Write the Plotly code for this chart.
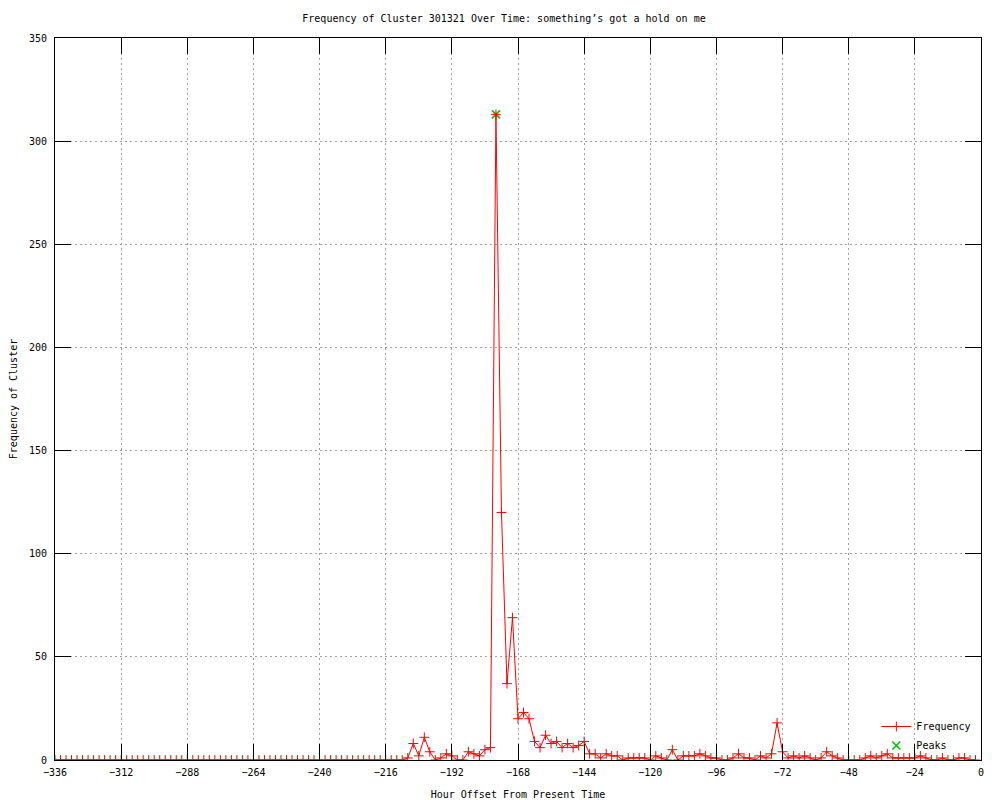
"""Cluster frequency over time (gnuplot-style line chart)."""

import plotly.graph_objects as go

# hour offsets from -336 to -2, one sample every 2 hours
hours = list(range(-336, 0, 2))

# frequency per 2-hour slot
frequency = (
    [0] * 64
    + [1, 8, 2, 11, 4, 0, 1, 3, 2, 0, 0, 4, 3, 2, 5, 6]          # -208 .. -178
    + [313, 120, 37, 69, 20, 23, 20, 9, 6, 12, 8, 9, 6, 8, 6, 7]  # -176 .. -146
    + [9, 3, 3, 1, 3, 2, 2, 0, 1, 1, 1, 1, 0, 2, 1, 0]            # -144 .. -114
    + [5, 0, 2, 2, 2, 3, 2, 1, 1, 0, 0, 1, 3, 1, 1, 0]            # -112 .. -82
    + [2, 1, 3, 18, 4, 1, 2, 1, 2, 1, 0, 1, 4, 2, 1, 0]           # -80 .. -50
    + [0, 0, 0, 1, 2, 1, 2, 3, 1, 1, 1, 1, 1, 2, 1, 0]            # -48 .. -18
    + [0, 1, 0, 0, 1, 1, 0, 0]                                    # -16 .. -2
)

peak_hours = [-176]
peak_values = [313]

x_ticks = list(range(-336, 1, 24))
y_ticks = list(range(0, 351, 50))

MONO = "DejaVu Sans Mono"
PEAK_GREEN = "#00c000"

fig = go.Figure()
fig.add_trace(
    go.Scatter(
        x=peak_hours,
        y=peak_values,
        name="Peaks",
        mode="markers",
        marker=dict(symbol="x-thin", size=8, color=PEAK_GREEN, line=dict(color=PEAK_GREEN, width=1.6)),
        legendrank=2,
    )
)
fig.add_trace(
    go.Scatter(
        x=hours,
        y=frequency,
        name="Frequency",
        mode="lines+markers",
        line=dict(color="#ff0000", width=1),
        marker=dict(symbol="cross-thin", size=7, color="#ff0000", line=dict(color="#ff0000", width=1)),
        legendrank=1,
    )
)

axis_common = dict(
    automargin=False,
    showline=True,
    linecolor="black",
    linewidth=1,
    mirror="ticks",
    ticks="inside",
    ticklen=16,
    tickcolor="black",
    tickwidth=1,
    showgrid=True,
    gridcolor="#a0a0a0",
    griddash="2px,3px",
    gridwidth=1,
    zeroline=False,
    tickfont=dict(family=MONO, size=10, color="black"),
)

fig.update_xaxes(
    range=[-336, 0],
    tickvals=x_ticks,
    ticktext=[str(t).replace("-", "\u2212") for t in x_ticks],
    ticklabelstandoff=3,
    title=dict(text="Hour Offset From Present Time", font=dict(family=MONO, size=10)),
    **axis_common,
)
fig.update_yaxes(
    range=[0, 350],
    tickvals=y_ticks,
    ticklabelstandoff=5,
    title=dict(text="Frequency of Cluster", font=dict(family=MONO, size=10)),
    **axis_common,
)

# page body adds an 8px offset, so the figure is 8px smaller than the window
fig.update_layout(
    width=992,
    height=792,
    margin=dict(l=47, r=19, t=30, b=40),
    paper_bgcolor="white",
    plot_bgcolor="white",
    font=dict(family=MONO, size=10, color="black"),
    title=dict(
        text="Frequency of Cluster 301321 Over Time: something\u2019s got a hold on me",
        x=0.5,
        xanchor="center",
        y=0.987,
        yanchor="middle",
        font=dict(family=MONO, size=10, color="black"),
    ),
    legend=dict(
        x=0.995,
        y=0.0,
        xanchor="right",
        yanchor="bottom",
        bgcolor="rgba(0,0,0,0)",
        font=dict(family=MONO, size=10),
        tracegroupgap=0,
        itemwidth=30,
    ),
    showlegend=True,
)

fig.write_html("out.html")
